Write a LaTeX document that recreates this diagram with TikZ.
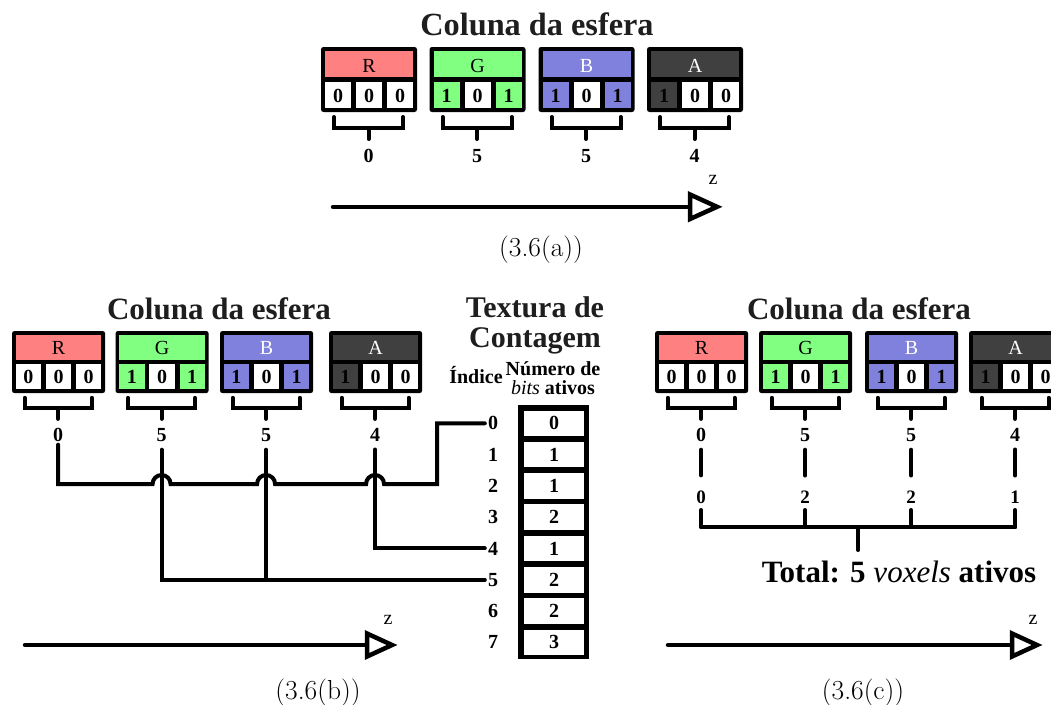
\documentclass[tikz,border=0pt]{standalone}
\usepackage{fontspec}
\newfontfamily\tms{Liberation Serif}
\usetikzlibrary{calc}
\definecolor{cR}{HTML}{FF8080}
\definecolor{cG}{HTML}{80FF80}
\definecolor{cB}{HTML}{8080DD}
\definecolor{cA}{HTML}{404040}
\definecolor{ink}{HTML}{1E1E1E}
\tikzset{
  conn/.style={line width=4pt, line cap=round, black},
  axisline/.style={line width=4.5pt, line cap=round, black},
  tip/.style={line width=4.5pt, draw=black, fill=white, line join=miter},
  hdrtxt/.style={font=\tms\fontsize{20}{20}\selectfont, inner sep=0pt},
  bittxt/.style={font=\tms\bfseries\fontsize{20}{20}\selectfont, inner sep=0pt},
  numtxt/.style={font=\tms\bfseries\fontsize{20}{20}\selectfont, inner sep=0pt},
  smalltxt/.style={font=\tms\bfseries\fontsize{19}{19}\selectfont, inner sep=0pt},
  titletxt/.style={font=\tms\bfseries\fontsize{31}{31}\selectfont, inner sep=0pt, text=ink},
  captxt/.style={font=\fontsize{27.5}{27.5}\selectfont, inner sep=0pt},
  ztxt/.style={font=\tms\fontsize{20}{20}\selectfont, inner sep=0pt},
  cellbox/.style={fill=white, minimum width=60pt, minimum height=25.5pt, inner sep=0pt,
     font=\tms\bfseries\fontsize{20}{20}\selectfont},
}
% #1 name, #2 shift, #3 xscale, #4 yscale, #5 colour, #6 label colour, #7 label, #8 bits, #9 count
\newcommand\chbox[9]{%
\begin{scope}[shift={(#2)},xscale=#3,yscale=#4]
  \fill[black,rounded corners=2.5pt] (0,0) rectangle (96,65);
  \fill[#5] (4,4) rectangle (92,30);
  \node[hdrtxt,text=#6,anchor=base] (#1-h) at (48,25) {#7};
  \foreach \b [count=\k from 0] in {#8}{%
    \ifnum\b=1\relax\def\cf{#5}\else\def\cf{white}\fi
    \fill[\cf] ({4+31*\k},35) rectangle ++(26,26);
    \node[bittxt,anchor=base] (#1-b\k) at ({17+31*\k},55) {\b};
  }
  \draw[conn] (13,70) -- (13,81) -- (82,81) -- (82,70);
  \draw[conn] (47.5,81) -- (47.5,92);
  \node[numtxt,anchor=base] (#1-n) at (47.5,115.5) {#9};
\end{scope}}
\begin{document}
\begin{tikzpicture}[x=1pt,y=-1pt]
\useasboundingbox (0,0) rectangle (1051,704);
\clip (0,0) rectangle (1051,704);

% ---------- (a) ----------
\node[titletxt,anchor=base,font=\tms\bfseries\fontsize{32.3}{32.3}\selectfont] (ta) at (537,35) {Coluna da esfera};
\chbox{tR}{321,47}{1}{1}{cR}{black}{R}{0,0,0}{0}
\chbox{tG}{429.5,47}{1}{1}{cG}{black}{G}{1,0,1}{5}
\chbox{tB}{538.5,47}{1}{1}{cB}{white}{B}{1,0,1}{5}
\chbox{tA}{647,47}{1}{1}{cA}{white}{A}{1,0,0}{4}
\coordinate (axa0) at (333,207);
\coordinate (axa1) at (690,207);
\draw[axisline] (axa0) -- (axa1);
\draw[tip] (690,194.5) -- (690,219) -- (717,206.8) -- cycle;
\node[ztxt] (za) at (713,180) {z};
\node[captxt,anchor=base] (capa) at (541,256) {(3.6(a))};

% ---------- (b) ----------
\node[titletxt,anchor=base] (tb) at (219,319) {Coluna da esfera};
\chbox{bR}{12,331}{.97}{.955}{cR}{black}{R}{0,0,0}{0}
\chbox{bG}{115.5,331}{.97}{.955}{cG}{black}{G}{1,0,1}{5}
\chbox{bB}{220,331}{.97}{.955}{cB}{white}{B}{1,0,1}{5}
\chbox{bA}{329,331}{.97}{.955}{cA}{white}{A}{1,0,0}{4}

\node[titletxt,anchor=base,align=center,font=\tms\bfseries\fontsize{30}{30}\selectfont] (tex) at (535,347) {Textura de\\Contagem};
\node[numtxt,anchor=base] (hidx) at (476,383) {Índice};
\node[numtxt,anchor=base,align=center,font=\tms\bfseries\fontsize{20}{19}\selectfont] (hnum) at (553,394) {Número de\\{\mdseries\itshape bits} ativos};

\node[fill=black, minimum width=71pt, minimum height=254pt, inner sep=0pt] (tab) at (553.5,532) {};
\foreach \v [count=\k from 0] in {0,1,1,2,1,2,2,3}{
  \node[cellbox] (c\k) at (554,{423.25+31.3*\k}) {\v};
  \node[numtxt] (idx\k) at (493,{423.25+31.3*\k}) {\k};
}

\coordinate (hG) at (bG-n.south |- 0,484);
\coordinate (hB) at (bB-n.south |- 0,484);
\coordinate (hA) at (bA-n.south |- 0,484);
\coordinate (jog) at (437,484);
\draw[conn] ([yshift=-3pt]bR-n.south) -- (bR-n.south |- 0,484)
  -- ([xshift=-9pt]hG) arc[start angle=180,end angle=0,radius=9pt]
  -- ([xshift=-9pt]hB) arc[start angle=180,end angle=0,radius=9pt]
  -- ([xshift=-9pt]hA) arc[start angle=180,end angle=0,radius=9pt]
  -- (jog) -- (jog |- idx0) -- ([xshift=-3pt]idx0.west);
\draw[conn] ([yshift=-8pt]bG-n.south) -- (bG-n.south |- idx5) -- ([xshift=-3pt]idx5.west);
\draw[conn] ([yshift=-8pt]bB-n.south) -- (bB-n.south |- idx5);
\draw[conn] ([yshift=-8pt]bA-n.south) -- (bA-n.south |- idx4) -- ([xshift=-3pt]idx4.west);

\coordinate (axb0) at (25,645);
\coordinate (axb1) at (367,645);
\draw[axisline] (axb0) -- (axb1);
\draw[tip] (367,633.5) -- (367,656.5) -- (392,645) -- cycle;
\node[ztxt] (zb) at (388,620) {z};
\node[captxt,anchor=base] (capb) at (318,699) {(3.6(b))};

% ---------- (c) ----------
\node[titletxt,anchor=base] (tc) at (859,319) {Coluna da esfera};
\chbox{cR}{655,331}{.97}{.955}{cR}{black}{R}{0,0,0}{0}
\chbox{cG}{759,331}{.97}{.955}{cG}{black}{G}{1,0,1}{5}
\chbox{cB}{865,331}{.97}{.955}{cB}{white}{B}{1,0,1}{5}
\chbox{cA}{969,331}{.97}{.955}{cA}{white}{A}{1,0,0}{4}
\foreach \ch/\v in {R/0,G/2,B/2,A/1}{
  \node[smalltxt] (c\ch-m) at (c\ch-n.south |- 0,497) {\v};
  \draw[conn, shorten <=8pt, shorten >=15pt] (c\ch-n.south) -- (c\ch-m.north);
  \draw[conn] (c\ch-m.south |- 0,510) -- (c\ch-m.south |- 0,527);
}
\draw[conn] (cR-m.south |- 0,527) -- (cA-m.south |- 0,527);
\coordinate (cmid) at ($(cG-m.south)!.5!(cB-m.south)$);
\draw[conn] (cmid |- 0,527) -- (cmid |- 0,550);
\node[titletxt,anchor=base,text=black] (tot) at (899,582) {Total: 5 {\mdseries\itshape voxels} ativos};

\coordinate (axc0) at (668,645);
\coordinate (axc1) at (1012,645);
\draw[axisline] (axc0) -- (axc1);
\draw[tip] (1012,633.5) -- (1012,656.5) -- (1037,645) -- cycle;
\node[ztxt] (zc) at (1033,620) {z};
\node[captxt,anchor=base] (capc) at (863,699) {(3.6(c))};
\end{tikzpicture}
\end{document}
